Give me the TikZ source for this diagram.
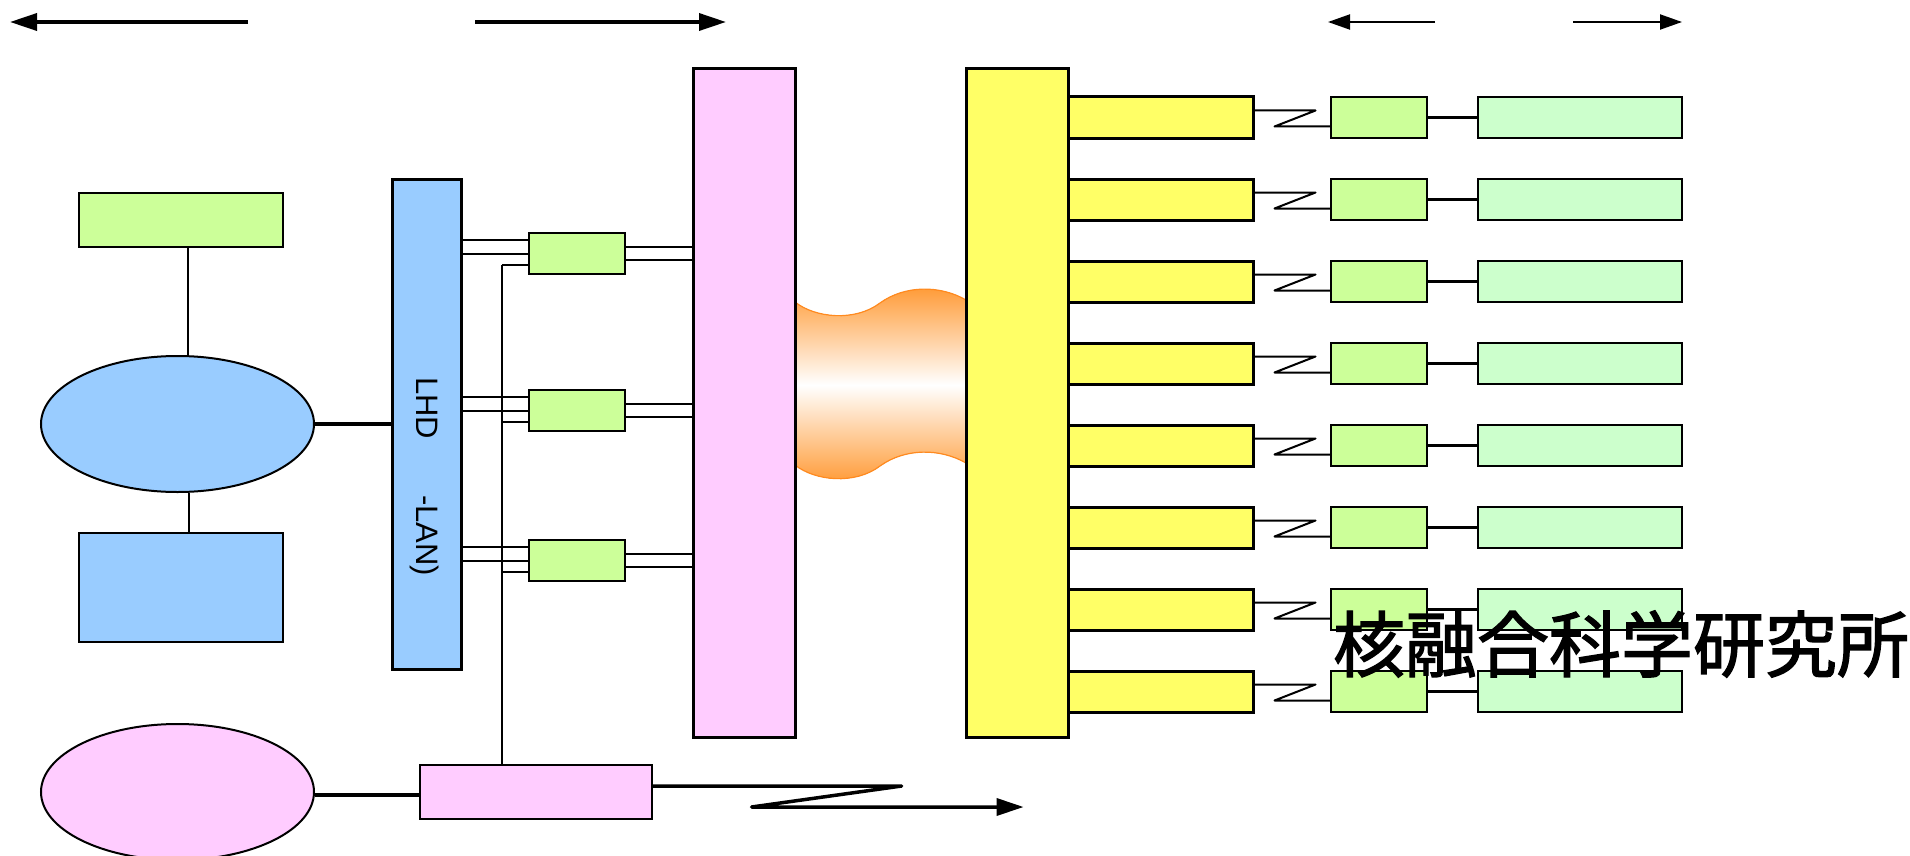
\documentclass[tikz,border=0pt]{standalone}
\usepackage{fontspec}
\setmainfont{Liberation Sans}
\newfontfamily\cjkfont[FakeBold=1.8]{Noto Sans CJK JP}
\usetikzlibrary{positioning}
\usetikzlibrary{arrows.meta}
\usetikzlibrary{calc}
\usetikzlibrary{shapes.geometric}

\definecolor{limegreen}{HTML}{CCFF99}
\definecolor{palegreen}{HTML}{CCFFCC}
\definecolor{skyblue}{HTML}{99CCFF}
\definecolor{lightpink}{HTML}{FFCCFF}
\definecolor{lemon}{HTML}{FFFF66}
\definecolor{tangerine}{HTML}{FF9933}
\definecolor{tangerineedge}{HTML}{FF8A1F}

\tikzset{
  blk/.style 2 args={draw, rectangle, inner sep=0pt, minimum width=#1, minimum height=#2},
  oval/.style 2 args={draw, ellipse, inner sep=0pt, line width=2pt, minimum width=#1, minimum height=#2},
  bigarrow/.style={line width=3.5pt, line join=round, -{Triangle[length=27pt,width=17pt]}},
  smallarrow/.style={line width=2pt, -{Triangle[length=22pt,width=15pt]}},
  link/.style={line width=2pt},
  trunk/.style={line width=3.5pt}
}

\begin{document}
\begin{tikzpicture}[x=1pt, y=-1pt]
        \useasboundingbox (0,0) rectangle (1910,856);

        % Define the coordinates of the top arrows
        \coordinate (al1) at (248,22);
        \coordinate (al0) at (10,22);
        \coordinate (ar0) at (475,22);
        \coordinate (ar1) at (726,22);
        \coordinate (bl1) at (1435,22);
        \coordinate (bl0) at (1328,22);
        \coordinate (br0) at (1573,22);
        \coordinate (br1) at (1682,22);

        % Draw the top arrows
        \draw[bigarrow] (al1) -- (al0);
        \draw[bigarrow] (ar0) -- (ar1);
        \draw[smallarrow] (bl1) -- (bl0);
        \draw[smallarrow] (br0) -- (br1);

        % Left side: server, host, storage and the LAN bar
        \node[blk={204pt}{54pt}, fill=limegreen, line width=2pt] (srv) at (181,220) {};
        \node[oval={273pt}{136pt}, fill=skyblue] (host) at (177.5,424) {};
        \node[blk={204pt}{109pt}, fill=skyblue, line width=2pt] (disk) at (181,587.5) {};
        \node[blk={69pt}{490pt}, fill=skyblue, line width=3pt] (lan) at (426.5,424) {};
        \node[rotate=-90, font=\fontsize{31}{33}\selectfont] (lantext) at (425,476.5) {LHD\hspace{56pt}-LAN)};

        \draw[link] ([xshift=7pt]srv.south) -- ([xshift=7pt]srv.south |- host.north);
        \draw[link] ([xshift=11pt]host.south) -- ([xshift=11pt]host.south |- disk.north);
        \draw[trunk] (host.east) -- (lan.west);

        % Bottom: satellite station and modem
        \node[oval={273pt}{136pt}, fill=lightpink] (sat) at (177.5,792) {};
        \node[blk={232pt}{54pt}, fill=lightpink, line width=1.2pt] (modem) at (536,792) {};
        \coordinate (m0) at ($(modem.west)+(0,3)$);
        \draw[trunk] (m0 -| sat.east) -- (m0);
        \draw[bigarrow] ($(modem.east)+(0,-6)$) -- ++(249,0) -- ++(-150,21) -- ++(272,0);
        \coordinate (tr) at ($(modem.north)+(-34,0)$);

        % Controller bars and the link between them
        \fill[top color=tangerine, bottom color=tangerine, middle color=white]
          (795,302) .. controls (815,318) and (855,322) .. (880,303)
          .. controls (905,285) and (940,285) .. (966,300) -- (966,463)
          .. controls (940,448) and (905,448) .. (880,466)
          .. controls (855,485) and (815,481) .. (795,465) -- cycle;
        \draw[tangerineedge, line width=1.2pt]
          (795,302) .. controls (815,318) and (855,322) .. (880,303)
          .. controls (905,285) and (940,285) .. (966,300);
        \draw[tangerineedge, line width=1.2pt]
          (966,463) .. controls (940,448) and (905,448) .. (880,466)
          .. controls (855,485) and (815,481) .. (795,465);
        \node[blk={102pt}{668pt}, fill=lightpink, line width=3pt] (ctl) at (744,403) {};
        \node[blk={102pt}{668pt}, fill=lemon, line width=3pt] (hub) at (1017,403) {};

        % Gateways between the LAN and the controller
        \foreach \i/\y in {1/253.5, 2/410.5, 3/560.5}
        {
          \node[blk={96pt}{41pt}, fill=limegreen, line width=2pt] (gw\i) at (577,\y) {};
          \coordinate (pa\i) at ($(gw\i.west)+(0,-13.5)$);
          \coordinate (pb\i) at ($(gw\i.west)+(0,0.5)$);
          \coordinate (pc\i) at ($(gw\i.west)+(0,11.5)$);
          \coordinate (qa\i) at ($(gw\i.east)+(0,-6.5)$);
          \coordinate (qb\i) at ($(gw\i.east)+(0,6.5)$);
          \draw[link] (pa\i -| lan.east) -- (pa\i);
          \draw[link] (pb\i -| lan.east) -- (pb\i);
          \draw[link] (pc\i -| tr) -- (pc\i);
          \draw[link] (qa\i) -- (qa\i -| ctl.west);
          \draw[link] (qb\i) -- (qb\i -| ctl.west);
        }
        \draw[link] (pc1 -| tr) -- (tr);

        % Remote sites
        \foreach \i in {0,...,7}
        {
          \pgfmathsetmacro{\yc}{117.5+82*\i}
          \node[blk={185pt}{41pt}, fill=lemon, line width=3pt] (port\i) at (1160.5,\yc) {};
          \node[blk={96pt}{41pt}, fill=limegreen, line width=2pt] (tu\i) at (1379,\yc) {};
          \node[blk={204pt}{41pt}, fill=palegreen, line width=2pt] (ws\i) at (1580,\yc) {};
          \coordinate (z\i) at ($(tu\i.west)+(0,9)$);
          \draw[link, line join=round] ($(port\i.east)+(0,-7)$) -- ++(61,0) -- ++(-41,16) -- (z\i);
          \draw[trunk] (tu\i.east) -- (ws\i.west);
        }

        \node[font=\cjkfont\fontsize{72}{80}\selectfont, inner sep=0pt] (nifs) at (1621,644) {核融合科学研究所};
\end{tikzpicture}
\end{document}
